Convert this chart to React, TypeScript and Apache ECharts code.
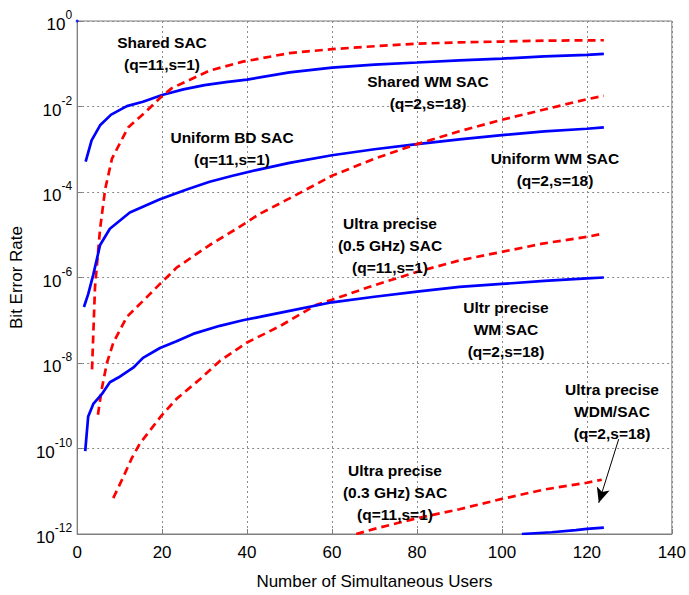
import React, { useEffect, useRef } from "react";
import * as echarts from "echarts";

// ---- Data ----
const sharedSacX = [2, 3.4, 5.4, 8, 11.7, 15.5, 20, 25, 30, 35, 40, 50, 60, 70, 80, 90, 100, 110, 120, 124];
const sharedSacY = [5.13e-4, 1.62e-3, 3.63e-3, 6.46e-3, 1.02e-2, 1.29e-2, 1.86e-2, 2.51e-2, 3.16e-2, 3.72e-2, 4.27e-2, 6.31e-2, 8.13e-2, 9.55e-2, 0.107, 0.12, 0.132, 0.148, 0.162, 0.17];

const sharedWmX = [3.5, 4.2, 5.4, 6.6, 8.2, 12, 16.4, 19.5, 22.3, 27.3, 31.2, 39, 43, 50, 60, 70, 80, 90, 100, 110, 124];
const sharedWmY = [7.08e-9, 5.89e-7, 1.38e-5, 1.17e-4, 6.03e-4, 3.24e-3, 7.94e-3, 1.58e-2, 2.69e-2, 4.57e-2, 6.92e-2, 0.112, 0.132, 0.178, 0.219, 0.257, 0.295, 0.316, 0.331, 0.347, 0.355];

const uniformBdX = [1.6, 2.6, 3.8, 5.4, 7.7, 12.4, 19.5, 25.8, 31.2, 36.6, 43, 50, 60, 70, 80, 90, 100, 110, 120, 124];
const uniformBdY = [2.04e-7, 4.07e-7, 1.17e-6, 5.75e-6, 1.38e-5, 3.31e-5, 6.76e-5, 1.15e-4, 1.74e-4, 2.4e-4, 3.39e-4, 4.79e-4, 7.24e-4, 1.0e-3, 1.32e-3, 1.7e-3, 2.14e-3, 2.63e-3, 3.02e-3, 3.24e-3];

const uniformWmX = [4.9, 5.8, 7, 8.5, 11.7, 16.4, 19.5, 21.8, 23.4, 31.2, 37.5, 43, 50, 60, 70, 80, 90, 100, 110, 120, 124];
const uniformWmY = [6.17e-10, 2.51e-9, 1.0e-8, 2.95e-8, 1.2e-7, 3.47e-7, 7.08e-7, 1.17e-6, 1.7e-6, 5.75e-6, 1.38e-5, 3.09e-5, 7.08e-5, 2.4e-4, 6.03e-4, 1.32e-3, 2.63e-3, 4.9e-3, 8.51e-3, 1.48e-2, 1.78e-2];

const ultra05X = [8.5, 10.8, 12.9, 14.8, 19.7, 23.4, 28.9, 33.6, 40, 47.7, 56.3, 60, 70, 80, 90, 100, 110, 120, 124];
const ultra05Y = [6.92e-12, 2.09e-11, 6.03e-11, 1.32e-10, 5.62e-10, 1.45e-9, 4.17e-9, 1.12e-8, 3.02e-8, 7.24e-8, 2.29e-7, 3.02e-7, 6.61e-7, 1.35e-6, 2.51e-6, 3.98e-6, 6.31e-6, 8.91e-6, 1.07e-5];

const ultrWmX = [1.9, 2.6, 3.8, 5.8, 7.7, 9.7, 13.2, 15.5, 19.5, 23.4, 27.3, 33.6, 39, 43, 50, 60, 70, 80, 90, 100, 110, 120, 124];
const ultrWmY = [8.71e-11, 5.62e-10, 1.1e-9, 1.86e-9, 3.55e-9, 4.57e-9, 7.76e-9, 1.32e-8, 2.24e-8, 3.24e-8, 4.79e-8, 7.41e-8, 1.0e-7, 1.2e-7, 1.66e-7, 2.63e-7, 3.55e-7, 4.68e-7, 6.03e-7, 7.08e-7, 8.32e-7, 9.55e-7, 1.0e-6];

const ultra03X = [65.7, 70, 80, 90, 100, 110, 120, 123.5];
const ultra03Y = [1e-12, 1.32e-12, 2.34e-12, 3.8e-12, 6.61e-12, 1.1e-11, 1.58e-11, 1.86e-11];

const wdmX = [104.7, 111.7, 117.4, 120, 124];
const wdmY = [1e-12, 1.1e-12, 1.23e-12, 1.32e-12, 1.41e-12];

const cornerPoint = [[0, 1]];

// arrow from the WDM/SAC label to its curve
const arrowFrom = [127.5, 1.66e-10];
const arrowTo = [122.8, 5.37e-12];

const xTicks = { min: 0, max: 140, interval: 20 };
const yRange = { min: 1e-12, max: 1 };

// annotation labels: [text lines], centre x, first line y
const labels: { lines: string[]; x: number; y: number }[] = [
  { lines: ["Shared SAC", "(q=11,s=1)"], x: 162, y: 42 },
  { lines: ["Shared WM SAC", "(q=2,s=18)"], x: 428, y: 81 },
  { lines: ["Uniform BD SAC", "(q=11,s=1)"], x: 232, y: 137 },
  { lines: ["Uniform WM SAC", "(q=2,s=18)"], x: 555, y: 158 },
  { lines: ["Ultra precise", "(0.5 GHz) SAC", "(q=11,s=1)"], x: 390, y: 223 },
  { lines: ["Ultr precise", "WM SAC", "(q=2,s=18)"], x: 506, y: 307 },
  { lines: ["Ultra precise", "WDM/SAC", "(q=2,s=18)"], x: 612, y: 389 },
  { lines: ["Ultra precise", "(0.3 GHz) SAC", "(q=11,s=1)"], x: 395, y: 470 },
];

const FONT = "'Liberation Sans', Arial, Helvetica, sans-serif";
const BLUE = "#0000ff";
const RED = "#ff0000";

const zip = (xs: number[], ys: number[]) => xs.map((x, i) => [x, ys[i]]);

export default function App() {
  const ref = useRef<HTMLDivElement>(null);
  useEffect(() => {
    document.body.style.margin = "0";
    if (!ref.current) return;
    const chart = echarts.init(ref.current, undefined, { renderer: "svg" });

    const blueLine = (name: string, data: number[][]) => ({
      name,
      type: "line",
      data,
      showSymbol: false,
      symbol: "none",
      lineStyle: { color: BLUE, width: 2.7, type: "solid" },
      itemStyle: { color: BLUE },
      silent: true,
      z: 3,
    });
    const redLine = (name: string, data: number[][]) => ({
      name,
      type: "line",
      data,
      showSymbol: false,
      symbol: "none",
      lineStyle: { color: RED, width: 2.7, type: [8, 5] },
      itemStyle: { color: RED },
      silent: true,
      z: 3,
    });

    const graphics: any[] = [];
    labels.forEach((l) => {
      l.lines.forEach((t, i) => {
        graphics.push({
          type: "text",
          x: l.x,
          y: l.y + i * 22,
          z: 10,
          style: {
            text: t,
            fill: "#000",
            font: `bold 15.5px ${FONT}`,
            align: "center",
            verticalAlign: "middle",
          },
        });
      });
    });

    const option: any = {
      animation: false,
      backgroundColor: "#ffffff",
      grid: {
        left: 77,
        right: 16,
        top: 21,
        bottom: 50,
        show: true,
        borderColor: "#7f7f7f",
        borderWidth: 1,
        backgroundColor: "transparent",
      },
      xAxis: {
        type: "value",
        min: xTicks.min,
        max: xTicks.max,
        interval: xTicks.interval,
        name: "Number of Simultaneous Users",
        nameLocation: "middle",
        nameGap: 39,
        nameTextStyle: { fontFamily: FONT, fontSize: 17, color: "#000" },
        axisLine: { show: true, lineStyle: { color: "#7f7f7f", width: 1 } },
        axisTick: { show: true, inside: true, length: 5, lineStyle: { color: "#7f7f7f" } },
        axisLabel: { fontFamily: FONT, fontSize: 17, color: "#000", margin: 10 },
        splitLine: { show: true, lineStyle: { color: "#8a8a8a", type: [2, 3], width: 1 } },
      },
      yAxis: {
        type: "log",
        logBase: 10,
        min: yRange.min,
        max: yRange.max,
        interval: 2,
        name: "Bit Error Rate",
        nameLocation: "middle",
        nameGap: 52,
        nameTextStyle: { fontFamily: FONT, fontSize: 17, color: "#000" },
        axisLine: { show: true, lineStyle: { color: "#7f7f7f", width: 1 } },
        axisTick: { show: true, inside: true, length: 5, lineStyle: { color: "#7f7f7f" } },
        minorTick: { show: false },
        axisLabel: {
          margin: 5,
          formatter: (v: number) => {
            const e = Math.round(Math.log10(v));
            return `{b|10}{e|${e}}`;
          },
          rich: {
            b: { fontFamily: FONT, fontSize: 17, color: "#000", lineHeight: 24, verticalAlign: "bottom" },
            e: { fontFamily: FONT, fontSize: 12, color: "#000", lineHeight: 24, verticalAlign: "top" },
          },
        },
        splitLine: { show: true, lineStyle: { color: "#8a8a8a", type: [2, 3], width: 1 } },
      },
      series: [
        blueLine("Shared SAC (q=11,s=1)", zip(sharedSacX, sharedSacY)),
        redLine("Shared WM SAC (q=2,s=18)", zip(sharedWmX, sharedWmY)),
        blueLine("Uniform BD SAC (q=11,s=1)", zip(uniformBdX, uniformBdY)),
        redLine("Uniform WM SAC (q=2,s=18)", zip(uniformWmX, uniformWmY)),
        redLine("Ultra precise (0.5 GHz) SAC (q=11,s=1)", zip(ultra05X, ultra05Y)),
        blueLine("Ultr precise WM SAC (q=2,s=18)", zip(ultrWmX, ultrWmY)),
        redLine("Ultra precise (0.3 GHz) SAC (q=11,s=1)", zip(ultra03X, ultra03Y)),
        {
          ...blueLine("Ultra precise WDM/SAC (q=2,s=18)", zip(wdmX, wdmY)),
          markLine: {
            silent: true,
            symbol: ["none", "arrow"],
            symbolSize: [10, 15],
            label: { show: false },
            lineStyle: { color: "#000", width: 1, type: "solid" },
            itemStyle: { color: "#000" },
            emphasis: { disabled: true },
            data: [[{ coord: arrowFrom }, { coord: arrowTo }]],
          },
        },
        {
          type: "scatter",
          data: cornerPoint,
          symbolSize: 3,
          itemStyle: { color: BLUE },
          silent: true,
        },
      ],
      graphic: graphics,
    };
    chart.setOption(option);
    return () => chart.dispose();
  }, []);

  return <div ref={ref} style={{ width: 689, height: 595, position: "absolute", left: 0, top: 0 }} />;
}
